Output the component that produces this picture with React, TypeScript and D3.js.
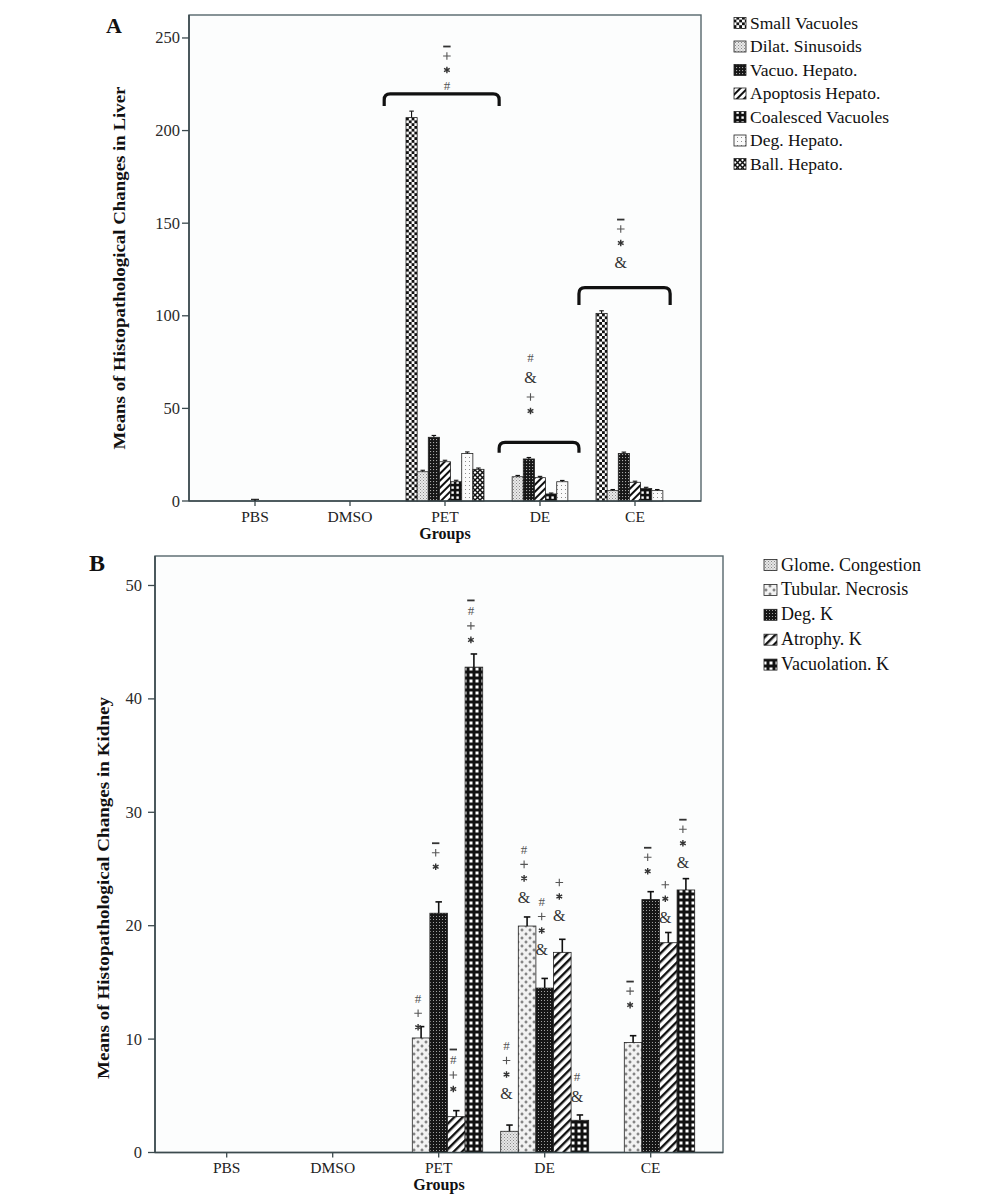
import React from 'react';
import * as d3 from 'd3';

// ---------- DATA ----------
const groups = ['PBS', 'DMSO', 'PET', 'DE', 'CE'];

// Panel A – liver
const liverSeries = ['Small Vacuoles', 'Dilat. Sinusoids', 'Vacuo. Hepato.', 'Apoptosis Hepato.', 'Coalesced Vacuoles', 'Deg. Hepato.', 'Ball. Hepato.'];
const liverSmallVacuoles = [0, 0, 207, 0, 101.3];
const liverDilatSinusoids = [0, 0, 15.8, 13.1, 5.6];
const liverVacuoHepato = [0, 0, 34.4, 22.7, 25.7];
const liverApoptosisHepato = [0, 0, 21.2, 12.6, 10.1];
const liverCoalescedVacuoles = [0, 0, 10.4, 3.8, 6.8];
const liverDegHepato = [0, 0, 25.7, 10.4, 5.6];
const liverBallHepato = [0, 0, 17.1, 0, 0];
const liverSmallVacuolesErr = [0, 0, 3.5, 0, 1.4];
const liverDilatSinusoidsErr = [0, 0, 0.8, 0.7, 0.6];
const liverVacuoHepatoErr = [0, 0, 1.0, 0.8, 0.7];
const liverApoptosisHepatoErr = [0, 0, 0.8, 0.7, 0.6];
const liverCoalescedVacuolesErr = [0, 0, 0.8, 0.5, 0.6];
const liverDegHepatoErr = [0, 0, 0.8, 0.7, 0.6];
const liverBallHepatoErr = [0, 0, 0.7, 0, 0];
const liverPBSApoptosisErr = 0.9;
const liverTicks = [0, 50, 100, 150, 200, 250];
const liverYMax = 262.4;

// Liver brackets: group, left / right extent (in group steps from centre), bracket top & arm end (data units)
const liverBracketGroups = ['PET', 'DE', 'CE'];
const liverBracketLeft = [-0.64, -0.43, -0.59];
const liverBracketRight = [0.57, 0.41, 0.37];
const liverBracketTop = [219.8, 31.7, 115.2];
const liverBracketEnd = [213.3, 26.1, 105.8];
const liverMarkShift = [0.02, -0.1, -0.15];
const liverMarkBottom = [224.6, 48.6, 129];
const liverMarks = [['−', '+', '*', '#'], ['#', '&', '+', '*'], ['−', '+', '*', '&']];

// Panel B – kidney
const kidneySeries = ['Glome. Congestion', 'Tubular. Necrosis', 'Deg. K', 'Atrophy. K', 'Vacuolation. K'];
const kidneyGlome = [0, 0, 0, 1.87, 0];
const kidneyTubular = [0, 0, 10.1, 19.97, 9.7];
const kidneyDegK = [0, 0, 21.1, 14.5, 22.3];
const kidneyAtrophy = [0, 0, 3.16, 17.65, 18.5];
const kidneyVacuolation = [0, 0, 42.8, 2.84, 23.15];
const kidneyGlomeErr = [0, 0, 0, 0.55, 0];
const kidneyTubularErr = [0, 0, 1.0, 0.8, 0.6];
const kidneyDegKErr = [0, 0, 1.0, 0.85, 0.7];
const kidneyAtrophyErr = [0, 0, 0.53, 1.15, 0.9];
const kidneyVacuolationErr = [0, 0, 1.16, 0.47, 1.0];
const kidneyTicks = [0, 10, 20, 30, 40, 50];
const kidneyYMax = 52.6;

// Kidney significance marks: group, series index, symbols (top→bottom), centre of lowest symbol (data units)
const kidneyMarkGroup = ['PET', 'PET', 'PET', 'PET', 'DE', 'DE', 'DE', 'DE', 'DE', 'CE', 'CE', 'CE', 'CE'];
const kidneyMarkSeries = [1, 2, 3, 4, 0, 1, 2, 3, 4, 1, 2, 3, 4];
const kidneyMarkSymbols = [
  ['#', '+', '*'], ['−', '+', '*'], ['−', '#', '+', '*'], ['−', '#', '+', '*'],
  ['#', '+', '*', '&'], ['#', '+', '*', '&'], ['#', '+', '*', '&'], ['+', '*', '&'], ['#', '&'],
  ['−', '+', '*'], ['−', '+', '*'], ['+', '*', '&'], ['−', '+', '*', '&'],
];
const kidneyMarkBottom = [11.04, 25.2, 5.6, 45.2, 5.2, 22.5, 17.9, 20.9, 4.9, 13.0, 24.8, 20.7, 25.6];

// ---------- STYLE ----------
const FONT = '"Liberation Serif", "Times New Roman", serif';
const liverPatterns = ['pSmallVac', 'pDilat', 'pVacuo', 'pApop', 'pCoal', 'pDeg', 'pBall'];
const kidneyPatterns = ['pGlome', 'pTubular', 'pDegK', 'pAtrophy', 'pVacK'];
const symH: Record<string, number> = { '−': 5, '+': 14, '*': 14, '#': 16, '&': 24 };

function Patterns() {
  return (
    <defs>
      <pattern id="pSmallVac" width="5.6" height="5.6" patternUnits="userSpaceOnUse">
        <rect width="5.6" height="5.6" fill="#111" />
        <rect x="0" y="0" width="2.8" height="2.8" fill="#fff" />
        <rect x="2.8" y="2.8" width="2.8" height="2.8" fill="#fff" />
      </pattern>
      <pattern id="pDilat" width="3" height="3" patternUnits="userSpaceOnUse">
        <rect width="3" height="3" fill="#e9e9e9" />
        <rect x="0" y="0" width="1" height="1" fill="#8a8a8a" />
        <rect x="1.5" y="1.5" width="1" height="1" fill="#a0a0a0" />
      </pattern>
      <pattern id="pGlome" width="3" height="3" patternUnits="userSpaceOnUse">
        <rect width="3" height="3" fill="#e6e6e6" />
        <rect x="0" y="0" width="1" height="1" fill="#8a8a8a" />
        <rect x="1.5" y="1.5" width="1" height="1" fill="#9a9a9a" />
      </pattern>
      <pattern id="pVacuo" width="3" height="3" patternUnits="userSpaceOnUse">
        <rect width="3" height="3" fill="#161616" />
        <rect x="1" y="1" width="1.1" height="1.1" fill="#a8a8a8" />
      </pattern>
      <pattern id="pDegK" width="3" height="3" patternUnits="userSpaceOnUse">
        <rect width="3" height="3" fill="#161616" />
        <rect x="1" y="1" width="1" height="1" fill="#a0a0a0" />
      </pattern>
      <pattern id="pApop" width="5" height="5" patternUnits="userSpaceOnUse" patternTransform="rotate(45)">
        <rect width="5" height="5" fill="#fff" />
        <rect x="0" y="0" width="2" height="5" fill="#111" />
      </pattern>
      <pattern id="pAtrophy" width="6" height="6" patternUnits="userSpaceOnUse" patternTransform="rotate(45)">
        <rect width="6" height="6" fill="#fff" />
        <rect x="0" y="0" width="2.4" height="6" fill="#111" />
      </pattern>
      <pattern id="pCoal" width="5" height="5" patternUnits="userSpaceOnUse">
        <rect width="5" height="5" fill="#111" />
        <rect x="1.4" y="1.4" width="2.4" height="2.4" fill="#fff" />
      </pattern>
      <pattern id="pVacK" width="6" height="6" patternUnits="userSpaceOnUse">
        <rect width="6" height="6" fill="#111" />
        <rect x="1.5" y="1.5" width="3" height="3" fill="#fff" />
      </pattern>
      <pattern id="pDeg" width="4" height="4" patternUnits="userSpaceOnUse">
        <rect width="4" height="4" fill="#fbfbfb" />
        <rect x="1" y="1" width="1" height="1" fill="#8c8c8c" />
      </pattern>
      <pattern id="pBall" width="5" height="5" patternUnits="userSpaceOnUse">
        <rect width="5" height="5" fill="#fff" />
        <path d="M0,0 L5,5 M5,0 L0,5" stroke="#111" strokeWidth="1.5" />
      </pattern>
      <pattern id="pTubular" width="8" height="8" patternUnits="userSpaceOnUse">
        <rect width="8" height="8" fill="#f2f2f2" />
        <path d="M0.5,2 H3.5 M2,0.5 V3.5 M4.5,6 H7.5 M6,4.5 V7.5" stroke="#666" strokeWidth="1.1" />
      </pattern>
    </defs>
  );
}

function Symbol({ ch, x, y }: { ch: string; x: number; y: number }) {
  if (ch === '+') {
    return <path d={`M${x - 3.8},${y} H${x + 3.8} M${x},${y - 3.8} V${y + 3.8}`} stroke="#555" strokeWidth={1.1} />;
  }
  if (ch === '−') {
    return <rect x={x - 3.7} y={y - 0.9} width={7.4} height={1.8} fill="#333" />;
  }
  if (ch === '*') {
    const r = 3.3;
    const d = [90, 30, 150]
      .map((a) => {
        const t = (a * Math.PI) / 180;
        return `M${x - r * Math.cos(t)},${y - r * Math.sin(t)} L${x + r * Math.cos(t)},${y + r * Math.sin(t)}`;
      })
      .join(' ');
    return <path d={d} stroke="#333" strokeWidth={1.4} />;
  }
  if (ch === '#') {
    return (
      <text x={x} y={y} textAnchor="middle" dominantBaseline="central" fontFamily={FONT} fontSize={13} fill="#555">
        #
      </text>
    );
  }
  return (
    <text x={x} y={y} textAnchor="middle" dominantBaseline="central" fontFamily={FONT} fontSize={16} fill="#333">
      &amp;
    </text>
  );
}

function Stack({ syms, x, yBottom }: { syms: string[]; x: number; yBottom: number }) {
  const ys: number[] = new Array(syms.length);
  ys[syms.length - 1] = yBottom;
  for (let i = syms.length - 2; i >= 0; i--) {
    ys[i] = ys[i + 1] - (symH[syms[i]] + symH[syms[i + 1]]) / 2;
  }
  return (
    <g>
      {syms.map((s, i) => (
        <Symbol key={i} ch={s} x={x} y={ys[i]} />
      ))}
    </g>
  );
}

function Panel(props: {
  letter: string;
  letterX: number;
  letterY: number;
  letterSize: number;
  frame: { x0: number; x1: number; y0: number; y1: number };
  bandRange: [number, number];
  groupWidth: number;
  yMax: number;
  ticks: number[];
  series: string[];
  means: number[][];
  errs: number[][];
  patterns: string[];
  capW: number;
  errStroke: number;
  yTitle: string;
  yTitleX: number;
  yTitleY: number;
  yTitleLen: number;
  xLabelY: number;
  groupsY: number;
  tickLabelGap: number;
  legendX: number;
  legendY: number;
  legendStep: number;
  legendFont: number;
  swW: number;
  swH: number;
  children?: (x: d3.ScaleBand<string>, xs: d3.ScaleBand<string>, y: d3.ScaleLinear<number, number>, off: number) => React.ReactNode;
}) {
  const { frame } = props;
  const x = d3.scaleBand<string>().domain(groups).range(props.bandRange);
  const xs = d3.scaleBand<string>().domain(props.series).range([0, props.groupWidth]);
  const y = d3.scaleLinear().domain([0, props.yMax]).range([frame.y1, frame.y0]);
  const off = (x.step() - props.groupWidth) / 2;
  return (
    <g>
      <text x={props.letterX} y={props.letterY} fontFamily={FONT} fontWeight="bold" fontSize={props.letterSize} fill="#111">
        {props.letter}
      </text>
      <rect x={frame.x0} y={frame.y0} width={frame.x1 - frame.x0} height={frame.y1 - frame.y0} fill="#fcfdfd" stroke="#56666b" strokeWidth={1.4} />
      {/* bars */}
      {props.series.map((s, si) =>
        groups.map((g, gi) => {
          const v = props.means[si][gi];
          if (v <= 0) return null;
          return (
            <rect
              key={s + g}
              x={(x(g) as number) + off + (xs(s) as number)}
              y={y(v)}
              width={xs.bandwidth()}
              height={y(0) - y(v)}
              fill={`url(#${props.patterns[si]})`}
              stroke="#222"
              strokeWidth={0.8}
            />
          );
        })
      )}
      {/* error bars */}
      {props.series.map((s, si) =>
        groups.map((g, gi) => {
          const v = props.means[si][gi];
          const e = props.errs[si][gi];
          if (e <= 0) return null;
          const cx = (x(g) as number) + off + (xs(s) as number) + xs.bandwidth() / 2;
          return (
            <g key={'e' + s + g} stroke="#111" strokeWidth={props.errStroke}>
              <line x1={cx} x2={cx} y1={y(v)} y2={y(v + e)} />
              <line x1={cx - props.capW / 2} x2={cx + props.capW / 2} y1={y(v + e)} y2={y(v + e)} />
            </g>
          );
        })
      )}
      {/* axes */}
      <line x1={frame.x0} x2={frame.x1} y1={frame.y1} y2={frame.y1} stroke="#3c4a4e" strokeWidth={1.6} />
      <line x1={frame.x0} x2={frame.x0} y1={frame.y0} y2={frame.y1} stroke="#3c4a4e" strokeWidth={1.6} />
      {props.ticks.map((t) => (
        <g key={'yt' + t}>
          <line x1={frame.x0 - 7} x2={frame.x0} y1={y(t)} y2={y(t)} stroke="#3c4a4e" strokeWidth={1.3} />
          <text x={frame.x0 - props.tickLabelGap} y={y(t)} textAnchor="end" dominantBaseline="central" fontFamily={FONT} fontSize={16.5} fill="#2a2a2a">
            {t}
          </text>
        </g>
      ))}
      {groups.map((g) => {
        const cx = (x(g) as number) + x.step() / 2;
        return (
          <g key={'xt' + g}>
            <line x1={cx} x2={cx} y1={frame.y1} y2={frame.y1 + 5} stroke="#3c4a4e" strokeWidth={1.3} />
            <text x={cx} y={props.xLabelY} textAnchor="middle" fontFamily={FONT} fontSize={15.5} fill="#222">
              {g}
            </text>
          </g>
        );
      })}
      <text x={(frame.x0 + frame.x1) / 2} y={props.groupsY} textAnchor="middle" fontFamily={FONT} fontWeight="bold" fontSize={16} fill="#111">
        Groups
      </text>
      <text
        transform={`translate(${props.yTitleX},${props.yTitleY}) rotate(-90)`}
        textAnchor="middle"
        dominantBaseline="central"
        fontFamily={FONT}
        fontWeight="bold"
        fontSize={17}
        fill="#111"
        textLength={props.yTitleLen}
        lengthAdjust="spacingAndGlyphs"
      >
        {props.yTitle}
      </text>
      {/* legend */}
      {props.series.map((s, si) => {
        const by = props.legendY + si * props.legendStep;
        return (
          <g key={'lg' + s}>
            <rect x={props.legendX} y={by - props.swH} width={props.swW} height={props.swH} fill={`url(#${props.patterns[si]})`} stroke="#222" strokeWidth={0.8} />
            <text x={props.legendX + props.swW + 4} y={by} fontFamily={FONT} fontSize={props.legendFont} fill="#111">
              {s}
            </text>
          </g>
        );
      })}
      {props.children && props.children(x, xs, y, off)}
    </g>
  );
}

export default function App() {
  const liverMeans = [liverSmallVacuoles, liverDilatSinusoids, liverVacuoHepato, liverApoptosisHepato, liverCoalescedVacuoles, liverDegHepato, liverBallHepato];
  const liverErrs = [liverSmallVacuolesErr, liverDilatSinusoidsErr, liverVacuoHepatoErr, liverApoptosisHepatoErr, liverCoalescedVacuolesErr, liverDegHepatoErr, liverBallHepatoErr];
  const kidneyMeans = [kidneyGlome, kidneyTubular, kidneyDegK, kidneyAtrophy, kidneyVacuolation];
  const kidneyErrs = [kidneyGlomeErr, kidneyTubularErr, kidneyDegKErr, kidneyAtrophyErr, kidneyVacuolationErr];

  return (
    <svg width={1000} height={1199} style={{ position: 'absolute', left: 0, top: 0, background: '#fff' }}>
      <Patterns />
      <Panel
        letter="A"
        letterX={106}
        letterY={33}
        letterSize={22}
        frame={{ x0: 189, x1: 701, y0: 15, y1: 501 }}
        bandRange={[207.5, 682.5]}
        groupWidth={78}
        yMax={liverYMax}
        ticks={liverTicks}
        series={liverSeries}
        means={liverMeans}
        errs={liverErrs}
        patterns={liverPatterns}
        capW={4.5}
        errStroke={1.1}
        yTitle="Means of Histopathological Changes in Liver"
        yTitleX={119.5}
        yTitleY={268}
        yTitleLen={363}
        xLabelY={521.5}
        groupsY={539}
        tickLabelGap={9}
        legendX={734}
        legendY={28.5}
        legendStep={23.5}
        legendFont={17.5}
        swW={12}
        swH={11}
      >
        {(x, xs, y, off) => (
          <g>
            {(() => {
              // PBS tiny error bar (Apoptosis Hepato.)
              const cx = (x('PBS') as number) + off + (xs(liverSeries[3]) as number) + xs.bandwidth() / 2;
              return (
                <g stroke="#111" strokeWidth={1.1}>
                  <line x1={cx} x2={cx} y1={y(0)} y2={y(liverPBSApoptosisErr)} />
                  <line x1={cx - 4} x2={cx + 4} y1={y(liverPBSApoptosisErr)} y2={y(liverPBSApoptosisErr)} />
                </g>
              );
            })()}
            {liverBracketGroups.map((g, i) => {
              const c = (x(g) as number) + x.step() / 2;
              const x0 = c + liverBracketLeft[i] * x.step();
              const x1 = c + liverBracketRight[i] * x.step();
              const yt = y(liverBracketTop[i]);
              const ye = y(liverBracketEnd[i]);
              const r = 6;
              const d = `M${x0},${ye} L${x0},${yt + r} Q${x0},${yt} ${x0 + r},${yt} L${x1 - r},${yt} Q${x1},${yt} ${x1},${yt + r} L${x1},${ye}`;
              return (
                <g key={'br' + g}>
                  <path d={d} fill="none" stroke="#111" strokeWidth={3.2} strokeLinecap="butt" />
                  <Stack syms={liverMarks[i]} x={c + liverMarkShift[i] * x.step()} yBottom={y(liverMarkBottom[i])} />
                </g>
              );
            })}
          </g>
        )}
      </Panel>
      <Panel
        letter="B"
        letterX={89}
        letterY={571}
        letterSize={24}
        frame={{ x0: 155, x1: 723, y0: 556, y1: 1152.5 }}
        bandRange={[173.7, 703.7]}
        groupWidth={88}
        yMax={kidneyYMax}
        ticks={kidneyTicks}
        series={kidneySeries}
        means={kidneyMeans}
        errs={kidneyErrs}
        patterns={kidneyPatterns}
        capW={6.5}
        errStroke={1.6}
        yTitle="Means of Histopathological Changes in Kidney"
        yTitleX={103.5}
        yTitleY={888}
        yTitleLen={382}
        xLabelY={1172.5}
        groupsY={1190}
        tickLabelGap={13}
        legendX={764}
        legendY={570.5}
        legendStep={24.9}
        legendFont={18}
        swW={13}
        swH={11}
      >
        {(x, xs, y, off) => (
          <g>
            {kidneyMarkGroup.map((g, i) => {
              const cx = (x(g) as number) + off + (xs(kidneySeries[kidneyMarkSeries[i]]) as number) + xs.bandwidth() / 2 - 3;
              return <Stack key={'km' + i} syms={kidneyMarkSymbols[i]} x={cx} yBottom={y(kidneyMarkBottom[i])} />;
            })}
          </g>
        )}
      </Panel>
    </svg>
  );
}
